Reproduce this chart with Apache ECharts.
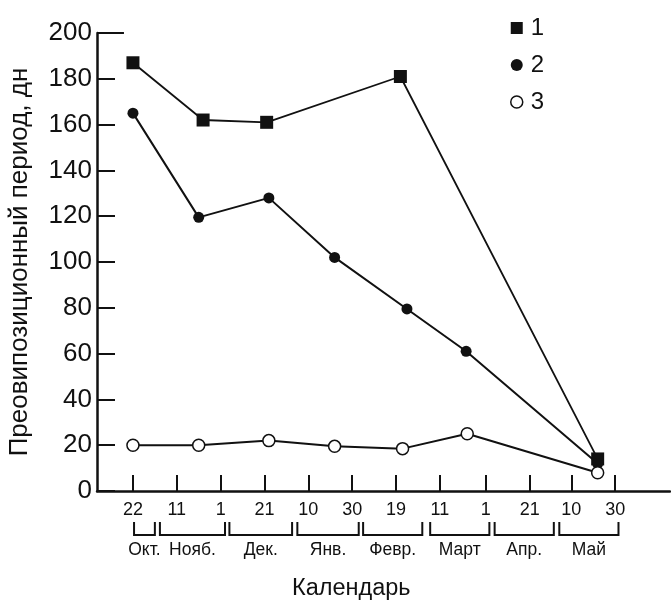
<!DOCTYPE html>
<html>
<head>
<meta charset="utf-8">
<script src="https://cdn.jsdelivr.net/npm/echarts@6/dist/echarts.min.js"></script>
<style>
  html, body { margin: 0; padding: 0; background: #fff; }
  #chart { width: 671px; height: 601px; }
</style>
</head>
<body>
<div id="chart"></div>
<script>
// Days counted from 22 October
const tickDays   = [0, 20, 40, 60, 80, 100, 120, 140, 161, 181, 200, 220];
const tickLabels = ['22', '11', '1', '21', '10', '30', '19', '11', '1', '21', '10', '30'];

// Month brackets under the axis (start/end day)
const monthNames = ['Окт.', 'Нояб.', 'Дек.', 'Янв.', 'Февр.', 'Март', 'Апр.', 'Май'];
const monthStart = [0.5, 12.3, 44, 75, 105, 135.6, 165, 194.5];
const monthEnd   = [10, 42, 72.6, 103, 132, 162.6, 192, 221.5];

// Observation days and pre-oviposition periods
const days1   = [0, 32, 61, 122, 212];
const period1 = [187, 162, 161, 181, 14];

const days2   = [0, 30, 62, 92, 125, 152, 212];
const period2 = [165, 119.5, 128, 102, 79.5, 61, 12];

const days3   = [0, 30, 62, 92, 123, 152.5, 212];
const period3 = [20, 20, 22, 19.5, 18.5, 25, 8];

const yTicks = { min: 0, max: 200, step: 20 };
const xRange = { min: -16.4, max: 245 };

const font = '"Liberation Sans", Arial, sans-serif';
const ink = '#111';

const pairs = (xs, ys) => xs.map((x, i) => [x, ys[i]]);

const chart = echarts.init(document.getElementById('chart'), null, { renderer: 'canvas' });

chart.setOption({
  animation: false,
  backgroundColor: '#fff',
  textStyle: { fontFamily: font, color: ink },
  title: {
    text: 'Календарь',
    left: 292, top: 577, padding: 0,
    textStyle: { fontFamily: font, fontSize: 23.5, fontWeight: 'normal', color: ink }
  },
  legend: {
    orient: 'vertical',
    left: 505, top: 11,
    itemWidth: 12, itemHeight: 12,
    itemGap: 13,
    selectedMode: false,
    textStyle: { fontFamily: font, fontSize: 24, lineHeight: 24, color: ink, padding: [0, 0, 0, 3] },
    data: [
      { name: '1', icon: 'rect', itemStyle: { color: ink } },
      { name: '2', icon: 'circle', itemStyle: { color: ink } },
      { name: '3', icon: 'circle', itemStyle: { color: '#fff', borderColor: ink, borderWidth: 1.5 } }
    ]
  },
  grid: { left: 97, right: 1, top: 33, bottom: 110, outerBoundsMode: 'none', containLabel: false },
  xAxis: {
    type: 'value',
    min: xRange.min, max: xRange.max,
    splitLine: { show: false },
    axisLine: { lineStyle: { color: ink, width: 2.5 } },
    axisTick: {
      inside: true, length: 16,
      lineStyle: { color: ink, width: 2 },
      customValues: tickDays
    },
    axisLabel: {
      customValues: tickDays,
      margin: 10,
      fontFamily: font, fontSize: 18, color: ink,
      formatter: v => tickLabels[tickDays.indexOf(v)] ?? ''
    }
  },
  yAxis: {
    type: 'value',
    min: yTicks.min, max: yTicks.max, interval: yTicks.step,
    name: 'Преовипозиционный период, дн',
    nameLocation: 'middle',
    nameGap: 64,
    nameTextStyle: { fontFamily: font, fontSize: 26, color: ink },
    splitLine: { show: false },
    axisLine: { show: true, onZero: false, lineStyle: { color: ink, width: 2.5 } },
    axisTick: { inside: true, length: 18, lineStyle: { color: ink, width: 2 } },
    axisLabel: { margin: 5, fontFamily: font, fontSize: 26, color: ink }
  },
  series: [
    {
      name: '1', type: 'line',
      data: pairs(days1, period1),
      symbol: 'rect', symbolSize: 13,
      lineStyle: { color: ink, width: 1.8 },
      itemStyle: { color: ink },
      z: 3,
      markLine: {
        silent: true, symbol: 'none', label: { show: false },
        lineStyle: { color: ink, width: 2, type: 'solid' },
        data: [[{ coord: [xRange.min, yTicks.max] }, { coord: [xRange.min + 12.3, yTicks.max] }]]
      }
    },
    {
      name: '2', type: 'line',
      data: pairs(days2, period2),
      symbol: 'circle', symbolSize: 11,
      lineStyle: { color: ink, width: 2 },
      itemStyle: { color: ink },
      z: 4
    },
    {
      name: '3', type: 'line',
      data: pairs(days3, period3),
      symbol: 'circle', symbolSize: 12,
      lineStyle: { color: ink, width: 2 },
      itemStyle: { color: '#fff', borderColor: ink, borderWidth: 1.5 },
      z: 5
    },
    {
      // month brackets and names below the date ticks
      name: 'months', type: 'custom',
      clip: false, silent: true,
      data: monthStart.map((s, i) => [s, monthEnd[i], 0]),
      encode: { x: [0, 1], y: 2 },
      renderItem: (params, api) => {
        const a = api.coord([api.value(0), api.value(2)]);
        const b = api.coord([api.value(1), api.value(2)]);
        const top = a[1] + 31, bot = a[1] + 44;
        return {
          type: 'group',
          children: [
            {
              type: 'polyline',
              shape: { points: [[a[0], top], [a[0], bot], [b[0], bot], [b[0], top]] },
              style: { stroke: ink, lineWidth: 2, fill: null }
            },
            {
              type: 'text',
              style: {
                x: (a[0] + b[0]) / 2, y: bot + 15,
                text: monthNames[params.dataIndex],
                fontFamily: font, fontSize: 17.5, fill: ink,
                align: 'center', verticalAlign: 'middle'
              }
            }
          ]
        };
      }
    }
  ]
});
</script>
</body>
</html>
